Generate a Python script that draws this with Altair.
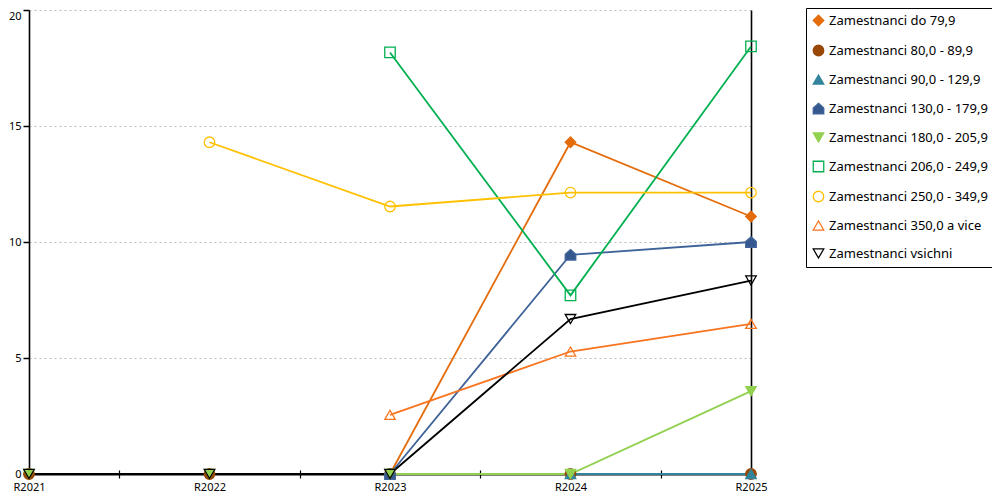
import json
import altair as alt
import pandas as pd

categories = ["R2021", "R2022", "R2023", "R2024", "R2025"]

series = [
    "Zamestnanci do 79,9",
    "Zamestnanci 80,0 - 89,9",
    "Zamestnanci 90,0 - 129,9",
    "Zamestnanci 130,0 - 179,9",
    "Zamestnanci 180,0 - 205,9",
    "Zamestnanci 206,0 - 249,9",
    "Zamestnanci 250,0 - 349,9",
    "Zamestnanci 350,0 a vice",
    "Zamestnanci vsichni",
]

v_do_79 = [None, None, 0, 14.3, 11.1]
v_80_89 = [0, 0, 0, 0, 0]
v_90_129 = [None, None, None, 0, 0]
v_130_179 = [None, None, 0, 9.45, 10.0]
v_180_205 = [0, 0, 0, 0, 3.57]
v_206_249 = [None, None, 18.17, 7.7, 18.43]
v_250_349 = [None, 14.3, 11.53, 12.13, 12.13]
v_350_vice = [None, None, 2.55, 5.28, 6.47]
v_vsichni = [0, 0, 0, 6.68, 8.34]

all_values = [v_do_79, v_80_89, v_90_129, v_130_179, v_180_205,
              v_206_249, v_250_349, v_350_vice, v_vsichni]

colors = ["#E46C0A", "#984807", "#31849B", "#3F6399", "#92D050",
          "#00B050", "#FFC000", "#F8741F", "#000000"]
fills = ["#E46C0A", "#984807", "#31849B", "#35598F", "#92D050",
         "transparent", "transparent", "transparent", "transparent"]
pentagon = "M0,-1L1,-0.1L1,1L-1,1L-1,-0.1Z"
shapes = ["diamond", "circle", "triangle-up", pentagon, "triangle-down",
          "square", "circle", "triangle-up", "triangle-down"]

rows = []
for s, vals in zip(series, all_values):
    for i, (c, v) in enumerate(zip(categories, vals)):
        if v is not None:
            rows.append({"idx": i, "year": c, "series": s, "value": v})
df = pd.DataFrame(rows)

label_expr = json.dumps(categories) + "[datum.value]"
tick_vals = [0.5, 1.5, 2.5, 3.5, 4]

FONT = "Noto Sans"
PLOT_W = 722
PLOT_H = 464

xscale = alt.Scale(domain=[0, len(categories) - 1], nice=False, zero=False)
yscale = alt.Scale(domain=[0, 20], nice=False)

leg = alt.Legend(
    title=None, orient="none", legendX=777, legendY=-2,
    padding=6, rowPadding=13, strokeColor="black", fillColor="white",
    labelFont=FONT, labelFontSize=13, labelColor="black", labelLimit=400,
    labelOffset=4, symbolSize=110, symbolStrokeWidth=1.3, cornerRadius=0,
)
color_enc = alt.Color("series:N", scale=alt.Scale(domain=series, range=colors),
                      legend=leg)

base = alt.Chart(df)

lines = base.mark_line(strokeWidth=1.8).encode(
    x=alt.X("idx:Q", scale=xscale, title=None,
            axis=alt.Axis(values=list(range(len(categories))), labelExpr=label_expr,
                          ticks=False, tickSize=0, grid=False, domain=True,
                          domainColor="black", domainWidth=1.8, labelFlush=False,
                          labelOverlap=False, labelBound=False, labelPadding=7,
                          labelFont=FONT, labelFontSize=11, labelColor="black",
                          orient="bottom")),
    y=alt.Y("value:Q", scale=yscale, title=None,
            axis=alt.Axis(values=[0, 5, 10, 15, 20], ticks=True, tickSize=6,
                          tickColor="black", tickWidth=1.5, domain=True,
                          domainColor="black", domainWidth=1.6, grid=True,
                          gridColor="#BBBBBB", gridDash=[2, 3], gridWidth=1,
                          labelPadding=2, labelFont=FONT, labelFontSize=11,
                          labelColor="black", orient="left",
                          labelBaseline={"condition": {"test": "datum.value == 20",
                                                       "value": "top"},
                                         "value": "middle"})),
    color=color_enc,
    order=alt.Order("idx:Q"),
)

points = base.mark_point(size=110, strokeWidth=1.3, opacity=1).encode(
    x=alt.X("idx:Q", scale=xscale, axis=None),
    y=alt.Y("value:Q", scale=yscale, axis=None),
    color=color_enc,
    shape=alt.Shape("series:N", scale=alt.Scale(domain=series, range=shapes), legend=leg),
    fill=alt.Fill("series:N", scale=alt.Scale(domain=series, range=fills), legend=leg),
)

frame = base.mark_line(opacity=0).encode(
    x=alt.X("idx:Q", scale=xscale, title=None,
            axis=alt.Axis(values=tick_vals, labels=False, ticks=True, tickSize=8,
                          tickColor="black", tickWidth=1.2, domain=False, grid=False,
                          offset=-4, orient="bottom")),
    y=alt.Y("value:Q", scale=yscale, title=None,
            axis=alt.Axis(labels=False, ticks=False, grid=False, domain=True,
                          domainColor="black", domainWidth=1.6, orient="right")),
    detail="series:N",
)

chart = alt.layer(lines, points, frame).resolve_axis(
    x="independent", y="independent"
).properties(
    width=PLOT_W,
    height=PLOT_H,
    padding={"left": 21, "top": 2, "right": 984 - 21 - PLOT_W, "bottom": 484 - 2 - PLOT_H},
    autosize=alt.AutoSizeParams(type="none"),
).configure_view(
    stroke=None
)

chart.save("out.html", embed_options={"renderer": "svg", "actions": False})
